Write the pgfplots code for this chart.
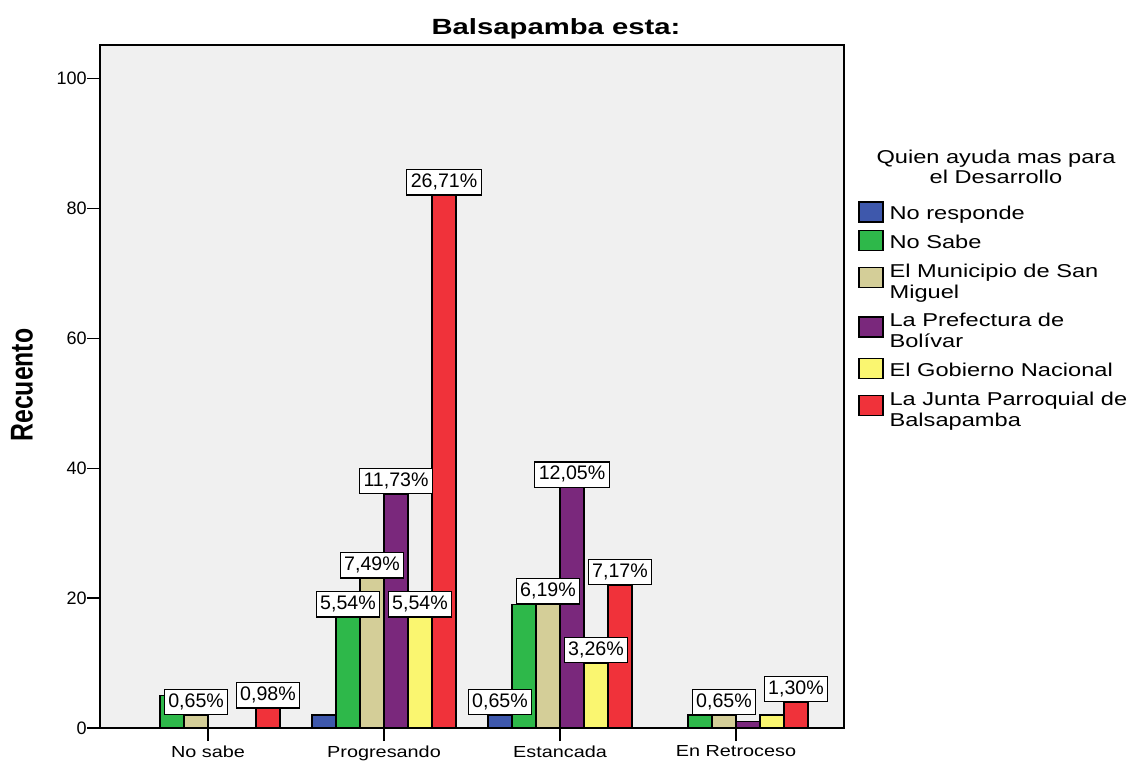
\documentclass[border=0pt]{standalone}
\usepackage{fontspec}
\setmainfont{Liberation Sans}
\newfontfamily\wide{Liberation Sans}[FakeStretch=1.27]
\newfontfamily\widetick{Liberation Sans}[FakeStretch=1.24]
\newfontfamily\titlefont{Liberation Sans}[FakeStretch=1.33]
\usepackage{pgfplots}
\pgfplotsset{compat=1.18}
\definecolor{cblue}{RGB}{62,88,172}
\definecolor{cgreen}{RGB}{46,184,74}
\definecolor{cbeige}{RGB}{212,206,152}
\definecolor{cpurple}{RGB}{122,40,124}
\definecolor{cyellow}{RGB}{250,246,112}
\definecolor{cred}{RGB}{240,50,58}
\definecolor{bgc}{RGB}{240,240,240}
\newcommand\sr{\rule[-2.9pt]{0pt}{10.5pt}}
\newcommand\srA{\rule[-2.9pt]{0pt}{12.25pt}}
\pgfplotsset{
  mybar/.style={ybar, bar width=12pt, draw=black, line width=0.6pt,
    legend image code/.code={\draw[##1,draw=black,line width=0.6pt] (0pt,-1pt) rectangle (12pt,9pt);}},
  twoline/.style={legend image code/.code={\draw[##1,draw=black,line width=0.6pt] (0pt,5.5pt) rectangle (12pt,15.5pt);}},
  mylab/.style={draw=none, mark=none, forget plot,
    point meta=explicit symbolic, nodes near coords,
    every node near coord/.style={draw=black, fill=white, line width=0.6pt,
      font=\fontsize{9.8}{11}\selectfont, inner xsep=2pt, inner ysep=1.8pt,
      text height=7.2pt, text depth=1.8pt, anchor=south}},
}
\begin{document}
\begin{tikzpicture}
\useasboundingbox (0,0) rectangle (563.5pt,380pt);
\begin{axis}[
  at={(50pt,16pt)}, anchor=south west,
  width=372pt, height=341.5pt, scale only axis,
  clip=false,
  xmin=-0.614, xmax=3.614, ymin=0, ymax=105.2,
  xtick={0,1,2,3},
  xticklabels={No sabe,Progresando,Estancada,En Retroceso},
  ytick={0,20,40,60,80,100},
  minor tick num=0,
  xtick pos=bottom, ytick pos=left,
  tick align=outside, major tick length=6.5pt,
  axis background/.style={fill=bgc},
  axis line style={black, line width=0.7pt},
  tick style={black, line width=0.7pt},
  /pgf/number format/assume math mode=true,
  yticklabel style={font=\fontsize{9}{10}\selectfont, anchor=east, inner sep=0pt},
  xticklabel style={font=\widetick\fontsize{8}{9}\selectfont, anchor=north, inner sep=0pt, yshift=-2pt},
  title={Balsapamba esta:},
  title style={at={(rel axis cs:0.6129,0.998)}, anchor=base, inner sep=0pt,
    font=\titlefont\bfseries\fontsize{11}{13}\selectfont},
  ylabel={\scalebox{1}[1.27]{Recuento}},
  every axis y label/.style={at={(rel axis cs:-0.1048,0.502)}, rotate=90, anchor=center,
    font=\bfseries\fontsize{12.4}{14}\selectfont},
  legend style={at={(rel axis cs:1.0188,0.7716)}, anchor=north west, draw=none, fill=none,
    inner sep=0pt, row sep=3.5pt, column sep=3pt,
    font=\wide\fontsize{9.3}{10.5}\selectfont,
    cells={anchor=base west},
    nodes={inner sep=0pt, align=left, anchor=base west}},
]
\addplot[mybar, bar shift=-30pt, fill=cblue] coordinates {(1,2) (2,2)};
\addlegendentry{\sr No responde}
\addplot[mybar, bar shift=-18pt, fill=cgreen] coordinates {(0,5) (1,17) (2,19) (3,2)};
\addlegendentry{\sr No Sabe}
\addplot[mybar, twoline, bar shift=-6pt, fill=cbeige] coordinates {(0,2) (1,23) (2,19) (3,2)};
\addlegendentry{\srA El Municipio de San\\\sr Miguel}
\addplot[mybar, twoline, bar shift=6pt, fill=cpurple] coordinates {(1,36) (2,37) (3,1)};
\addlegendentry{\srA La Prefectura de\\\sr Bolívar}
\addplot[mybar, bar shift=18pt, fill=cyellow] coordinates {(1,17) (2,10) (3,2)};
\addlegendentry{\sr El Gobierno Nacional}
\addplot[mybar, twoline, bar shift=30pt, fill=cred] coordinates {(0,3) (1,82) (2,22) (3,4)};
\addlegendentry{\srA La Junta Parroquial de\\\sr Balsapamba}
% percentage labels, placed over the bar they belong to
\addplot[mylab] coordinates {(1.6591,2) [0,65\%]};
\addplot[mylab] coordinates {(0.7955,17) [5,54\%]};
\addplot[mylab] coordinates {(-0.0682,2) [0,65\%] (0.9318,23) [7,49\%] (1.9318,19) [6,19\%] (2.9318,2) [0,65\%]};
\addplot[mylab] coordinates {(1.0682,36) [11,73\%] (2.0682,37) [12,05\%]};
\addplot[mylab] coordinates {(1.2045,17) [5,54\%] (2.2045,10) [3,26\%]};
\addplot[mylab] coordinates {(0.3409,3) [0,98\%] (1.3409,82) [26,71\%] (2.3409,22) [7,17\%] (3.3409,4) [1,30\%]};
\node[font=\wide\fontsize{9.3}{10.5}\selectfont, anchor=base] at (rel axis cs:1.2043,0.8258) {Quien ayuda mas para};
\node[font=\wide\fontsize{9.3}{10.5}\selectfont, anchor=base] at (rel axis cs:1.2043,0.7965) {el Desarrollo};
\end{axis}
\end{tikzpicture}
\end{document}
